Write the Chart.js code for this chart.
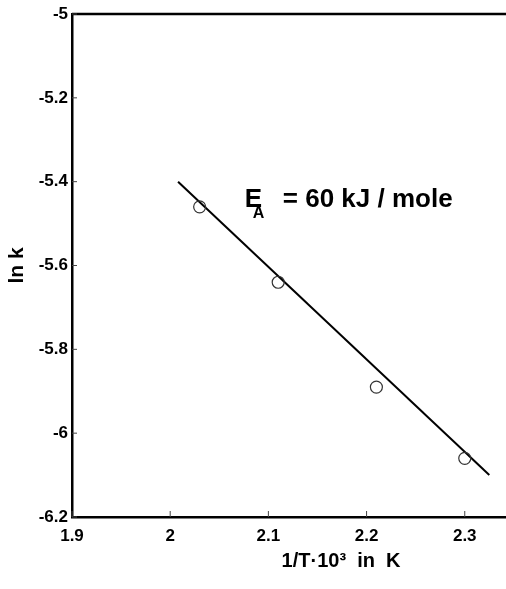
<!DOCTYPE html>
<html>
<head>
<meta charset="utf-8">
<script src="https://cdn.jsdelivr.net/npm/chart.js@4.4.1/dist/chart.umd.min.js"></script>
<style>
    html, body { margin: 0; padding: 0; background: #fff; }
    #wrap { width: 506px; height: 589px; }
</style>
</head>
<body>
<div id="wrap"><canvas id="myChart"></canvas></div>
<script>
// measured points (1/T*10^3, ln k)
var invT = [2.03, 2.11, 2.21, 2.30];
var lnK = [-5.46, -5.64, -5.89, -6.06];

// fitted line, two ends
var fitX = [2.008, 2.325];
var fitY = [-5.40, -6.10];

var xTicks = [1.9, 2, 2.1, 2.2, 2.3];
var yTicks = [-5, -5.2, -5.4, -5.6, -5.8, -6, -6.2];

var font = 'Liberation Sans, Arial, sans-serif';

var points = invT.map(function(x, i) { return { x: x, y: lnK[i] }; });
var fit = fitX.map(function(x, i) { return { x: x, y: fitY[i] }; });

var decor = {
    id: 'decor',
    afterDraw: function(chart) {
        var ctx = chart.ctx, a = chart.chartArea;
        var xs = chart.scales.x, ys = chart.scales.y;
        ctx.save();
        // top frame line
        ctx.strokeStyle = '#000';
        ctx.lineWidth = 2.5;
        ctx.beginPath();
        ctx.moveTo(a.left, a.top);
        ctx.lineTo(a.right, a.top);
        ctx.stroke();
        // small inward ticks
        ctx.lineWidth = 1;
        ctx.strokeStyle = '#444';
        yTicks.forEach(function(v) {
            var py = ys.getPixelForValue(v);
            ctx.beginPath();
            ctx.moveTo(a.left, py);
            ctx.lineTo(a.left + 5, py);
            ctx.stroke();
        });
        xTicks.forEach(function(v) {
            var px = xs.getPixelForValue(v);
            ctx.beginPath();
            ctx.moveTo(px, a.bottom);
            ctx.lineTo(px, a.bottom - 6);
            ctx.stroke();
        });

        ctx.fillStyle = '#000';
        ctx.textBaseline = 'alphabetic';
        ctx.textAlign = 'left';

        // annotation
        var ax = xs.getPixelForValue(2.076);
        var ay = ys.getPixelForValue(-5.46);
        ctx.font = 'bold 26px ' + font;
        ctx.fillText('E', ax, ay);
        ctx.font = 'bold 16px ' + font;
        ctx.fillText('A', ax + 8, ay + 11);
        ctx.font = 'bold 26px ' + font;
        ctx.fillText('= 60 kJ / mole', ax + 38, ay);

        // x title
        ctx.font = 'bold 20px ' + font;
        ctx.textAlign = 'center';
        ctx.fillText('1/T\u00b710\u00b3  in  K', xs.getPixelForValue(2.174), 567);

        // y title
        ctx.font = 'bold 21px ' + font;
        ctx.translate(23, (a.top + a.bottom) / 2);
        ctx.rotate(-Math.PI / 2);
        ctx.fillText('ln k', 0, 0);
        ctx.restore();
    }
};

var myChart = new Chart(document.getElementById('myChart').getContext('2d'), {
    type: 'scatter',
    data: {
        datasets: [
            {
                data: points,
                showLine: false,
                pointStyle: 'circle',
                pointRadius: 6,
                pointBorderWidth: 1.2,
                pointBorderColor: '#333',
                pointBackgroundColor: 'rgba(0,0,0,0)'
            },
            {
                data: fit,
                showLine: true,
                borderColor: '#000',
                borderWidth: 2,
                pointRadius: 0
            }
        ]
    },
    options: {
        responsive: true,
        maintainAspectRatio: false,
        animation: false,
        layout: { autoPadding: false, padding: { top: 14, right: 0, left: 0, bottom: 0 } },
        plugins: { legend: { display: false }, tooltip: { enabled: false } },
        scales: {
            x: {
                type: 'linear',
                min: 1.9,
                max: 2.342,
                afterBuildTicks: function(scale) {
                    scale.ticks = xTicks.map(function(v) { return { value: v }; });
                },
                afterFit: function(scale) {
                    scale.height = 72;
                    scale.paddingLeft = 0;
                    scale.paddingRight = 0;
                },
                grid: { display: false, drawTicks: false },
                border: { display: true, color: '#000', width: 2.5 },
                ticks: {
                    color: '#000',
                    padding: 9,
                    maxRotation: 0,
                    font: { family: font, size: 17, weight: 'bold' },
                    callback: function(v) { return String(Math.round(v * 10) / 10); }
                }
            },
            y: {
                type: 'linear',
                min: -6.2,
                max: -5,
                afterBuildTicks: function(scale) {
                    scale.ticks = yTicks.map(function(v) { return { value: v }; });
                },
                afterFit: function(scale) {
                    scale.width = 72;
                    scale.paddingTop = 0;
                    scale.paddingBottom = 0;
                },
                grid: { display: false, drawTicks: false },
                border: { display: true, color: '#000', width: 2.5 },
                ticks: {
                    color: '#000',
                    padding: 4,
                    font: { family: font, size: 17, weight: 'bold' },
                    callback: function(v) { return String(Math.round(v * 10) / 10); }
                }
            }
        }
    },
    plugins: [decor]
});
</script>
</body>
</html>
